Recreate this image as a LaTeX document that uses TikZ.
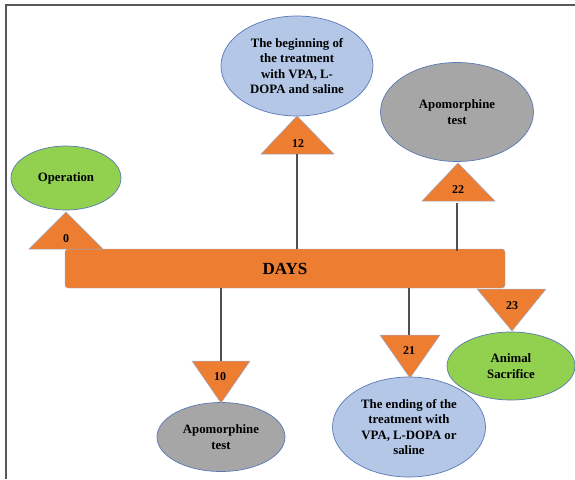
\documentclass[tikz,border=0pt]{standalone}
\usepackage{fontspec}
\setmainfont{Liberation Serif}[BoldFont={Liberation Serif Bold}]
\usetikzlibrary{shapes.geometric}
\definecolor{orng}{RGB}{237,125,49}
\definecolor{grn}{RGB}{146,208,80}
\definecolor{lblue}{RGB}{180,199,231}
\definecolor{gry}{RGB}{166,166,166}
\definecolor{edge}{RGB}{90,120,180}
\definecolor{conn}{RGB}{80,80,80}
\tikzset{
  ev/.style={ellipse, draw=edge, line width=0.7pt, inner sep=0pt, align=center,
    font=\fontsize{12.8}{15.3}\selectfont\bfseries},
  tri/.style={fill=orng, draw=edge!60, line width=0.5pt},
  num/.style={font=\fontsize{12}{14}\selectfont\bfseries, inner sep=0pt},
  conn/.style={draw=conn, line width=1.1pt},
  frame/.style={draw=gray!70!black, line width=1.2pt}
}
\begin{document}
\begin{tikzpicture}[x=1pt,y=-1pt]
\useasboundingbox (0,0) rectangle (575,479);
\draw[frame] (6,479) -- (6,5) -- (575,5);
% bar
\node[draw=edge!60, fill=orng, rounded corners=3pt, minimum width=440, minimum height=39, inner sep=0pt,
  font=\fontsize{17}{20}\selectfont\bfseries] (bar) at (285,268.5) {DAYS};
% ellipses
\node[ev, fill=grn, minimum width=110, minimum height=64] (op) at (66,178) {Operation};
\node[ev, fill=lblue, minimum width=152, minimum height=100] (beg) at (297,66)
  {The beginning of\\the treatment\\with VPA, L-\\DOPA and saline};
\node[ev, fill=gry, minimum width=153, minimum height=99] (apo1) at (457,112) {Apomorphine\\test};
\node[ev, fill=grn, minimum width=128, minimum height=68] (anim) at (511,366) {Animal\\Sacrifice};
\node[ev, fill=gry, minimum width=128, minimum height=69] (apo2) at (221,437) {Apomorphine\\test};
\node[ev, fill=lblue, minimum width=153, minimum height=100] (end) at (409,427)
  {The ending of the\\treatment with\\VPA, L-DOPA or\\saline};
% triangles
\draw[tri] (29,249) -- (66,212) -- (103,249) -- cycle;
\node[num] (n0) at (66,239) {0};
\draw[tri] (261,154) -- (297,116) -- (334,154) -- cycle;
\node[num] (n12) at (298,144) {12};
\draw[tri] (422,201) -- (458,163) -- (495,201) -- cycle;
\node[num] (n22) at (458,190) {22};
\draw[tri] (477,289) -- (512,331) -- (546,289) -- cycle;
\node[num] (n23) at (512,306) {23};
\draw[tri] (192,361) -- (221,403) -- (250,361) -- cycle;
\node[num] (n10) at (220,377) {10};
\draw[tri] (380,335) -- (410,378) -- (440,335) -- cycle;
\node[num] (n21) at (409,351) {21};
% connectors
\coordinate (c12) at (297,154);
\coordinate (c22) at (457,203);
\coordinate (c10) at (221,361);
\coordinate (c21) at (409,335);
\draw[conn] (c12) -- (c12 |- bar.north);
\draw[conn] (c22) -- ([yshift=-2pt]c22 |- bar.north);
\draw[conn] (c10 |- bar.south) -- (c10);
\draw[conn] (c21 |- bar.south) -- (c21);
\end{tikzpicture}
\end{document}
